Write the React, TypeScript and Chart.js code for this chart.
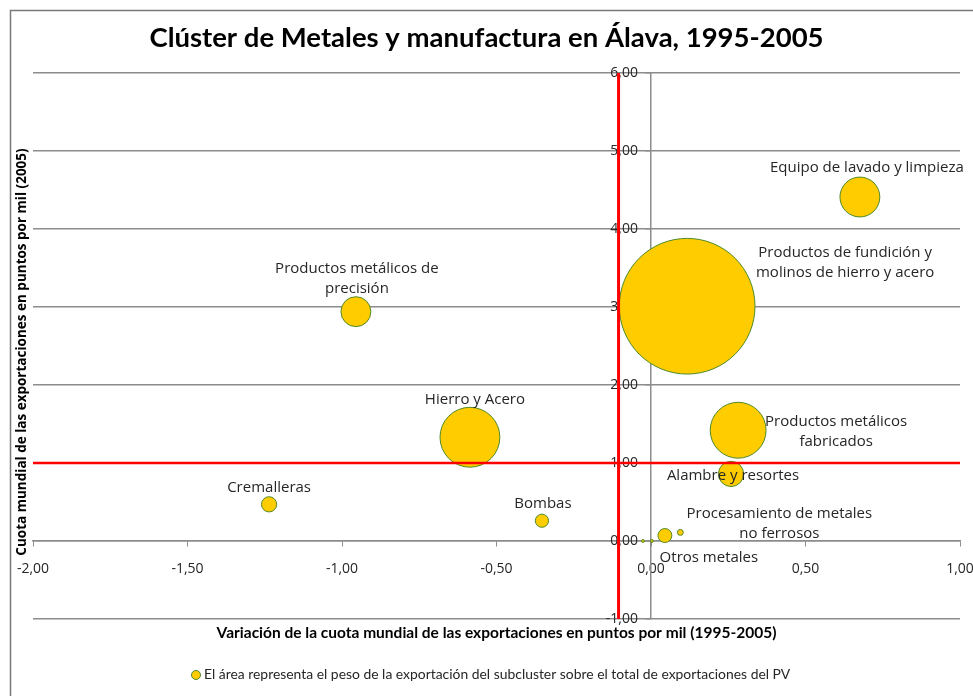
import React, { useEffect, useRef } from 'react';
import { Chart, registerables } from 'chart.js';

Chart.register(...registerables);

// ---- data ----
const subclusters = [
  'Equipo de lavado y limpieza',
  'Productos de fundición y\nmolinos de hierro y acero',
  'Productos metálicos de\nprecisión',
  'Hierro y Acero',
  'Productos metálicos\nfabricados',
  'Alambre y resortes',
  'Cremalleras',
  'Bombas',
  'Procesamiento de metales\nno ferrosos',
  'Otros metales',
  '',
  '',
];
// Variación de la cuota mundial (1995-2005), puntos por mil
const variacion = [0.676, 0.117, -0.955, -0.586, 0.282, 0.259, -1.236, -0.353, 0.095, 0.045, -0.026, 0.003];
// Cuota mundial 2005, puntos por mil
const cuota = [4.41, 3.01, 2.94, 1.33, 1.42, 0.86, 0.47, 0.26, 0.11, 0.07, 0.0, 0.0];
// Peso de la exportación del subcluster (% del total PV)
const peso = [5.5, 63.7, 3.1, 12.4, 10.8, 2.2, 0.8, 0.6, 0.12, 0.67, 0.03, 0.03];

const xMin = -2;
const xMax = 1;
const xStep = 0.5;
const yMin = -1;
const yMax = 6;
const yStep = 1;

// reference (red) lines
const refLineX = -0.105;
const refLineY = 1;

const titleText = 'Clúster de Metales y manufactura en Álava, 1995-2005';
const xTitle = 'Variación de la cuota mundial de las exportaciones en puntos por mil (1995-2005)';
const yTitle = 'Cuota mundial de las exportaciones en puntos por mil (2005)';
const legendText = 'El área representa el peso de la exportación del subcluster sobre el total de exportaciones del PV';

// ---- style ----
const BUBBLE_SCALE = 8.5;
const GOLD = '#FFCC00';
const GREEN = '#4F8A2A';
const GRID = '#8C8C8C';
const TEXT = '#262626';
const LABEL_FONT = '15px "Open Sans", Lato, sans-serif';
const TICK_FAMILY = '"Open Sans", Lato, sans-serif';
// label block centre offsets (px) from the bubble centre
const labelOffsets: [number, number][] = [
  [7, -29],
  [158, -43],
  [1, -33],
  [5, -38],
  [98, 1],
  [2, 2],
  [0, -17],
  [1, -17],
  [99, -9],
  [44, 22],
  [0, 0],
  [0, 0],
];

const fmt = (v: number) => v.toFixed(2).replace('.', ',');

const zeroPad = (scale: any) => {
  scale.paddingLeft = 0;
  scale.paddingRight = 0;
  scale.paddingTop = 0;
  scale.paddingBottom = 0;
};

const decorPlugin = {
  id: 'decor',
  beforeDraw(chart: any) {
    const ctx = chart.ctx;
    ctx.save();
    ctx.fillStyle = '#ffffff';
    ctx.fillRect(0, 0, chart.width, chart.height);
    ctx.strokeStyle = '#7a7a7a';
    ctx.lineWidth = 1.5;
    ctx.beginPath();
    ctx.moveTo(10.5, chart.height);
    ctx.lineTo(10.5, 10.5);
    ctx.lineTo(chart.width, 10.5);
    ctx.stroke();
    ctx.restore();
  },
  beforeDatasetsDraw(chart: any) {
    // y tick labels (left of the y axis that crosses at x = 0), under the red line
    const ctx = chart.ctx;
    const xs = chart.scales.x;
    const ys = chart.scales.y;
    ctx.save();
    ctx.font = `14px ${TICK_FAMILY}`;
    ctx.fillStyle = TEXT;
    ctx.textAlign = 'right';
    ctx.textBaseline = 'middle';
    const axisX = xs.getPixelForValue(0);
    ys.ticks.forEach((t: any) => {
      ctx.fillText(fmt(t.value), axisX - 13, ys.getPixelForValue(t.value));
    });
    ctx.restore();
  },
  afterDatasetsDraw(chart: any) {
    const ctx = chart.ctx;
    const meta = chart.getDatasetMeta(2);
    ctx.save();
    ctx.font = LABEL_FONT;
    ctx.fillStyle = TEXT;
    ctx.textAlign = 'center';
    ctx.textBaseline = 'middle';
    meta.data.forEach((el: any, i: number) => {
      const txt = subclusters[i];
      if (!txt) return;
      const lines = txt.split('\n');
      const [dx, dy] = labelOffsets[i];
      const lh = 20;
      const startY = el.y + dy - ((lines.length - 1) * lh) / 2;
      lines.forEach((ln, j) => ctx.fillText(ln, el.x + dx, startY + j * lh));
    });
    ctx.restore();
  },
  afterDraw(chart: any) {
    const ctx = chart.ctx;
    const ca = chart.chartArea;
    ctx.save();
    ctx.textBaseline = 'middle';
    // title
    ctx.fillStyle = '#000';
    ctx.textAlign = 'center';
    ctx.font = 'bold 27.5px Lato, "Open Sans", sans-serif';
    ctx.fillText(titleText, chart.width / 2, 38);
    // x title
    ctx.font = 'bold 15.5px Lato, "Open Sans", sans-serif';
    ctx.fillText(xTitle, (ca.left + ca.right) / 2, 633);
    // y title
    ctx.save();
    ctx.translate(22, (ca.top + ca.bottom) / 2 + 6);
    ctx.rotate(-Math.PI / 2);
    ctx.font = 'bold 13.5px "Open Sans", sans-serif';
    ctx.fillText(yTitle, 0, 0);
    ctx.restore();
    // legend
    ctx.font = '13.9px Lato, "Open Sans", sans-serif';
    ctx.textAlign = 'left';
    ctx.fillStyle = TEXT;
    ctx.fillText(legendText, 204, 675);
    ctx.beginPath();
    ctx.arc(196, 675, 4.5, 0, Math.PI * 2);
    ctx.fillStyle = GOLD;
    ctx.fill();
    ctx.strokeStyle = GREEN;
    ctx.lineWidth = 1;
    ctx.stroke();
    ctx.restore();
  },
};

export default function App() {
  const ref = useRef<HTMLCanvasElement | null>(null);
  useEffect(() => {
    document.body.style.margin = '0';
    if (!ref.current) return;
    const bubbles = variacion.map((x, i) => ({ x, y: cuota[i], r: BUBBLE_SCALE * Math.sqrt(peso[i]) }));
    const chart = new Chart(ref.current, {
      type: 'bubble',
      data: {
        datasets: [
          {
            type: 'scatter',
            data: [
              { x: refLineX, y: yMin },
              { x: refLineX, y: yMax },
            ],
            showLine: true,
            borderColor: '#FF0000',
            borderWidth: 3,
            pointRadius: 0,
            order: 0,
          } as any,
          {
            type: 'scatter',
            data: [
              { x: xMin, y: refLineY },
              { x: xMax, y: refLineY },
            ],
            showLine: true,
            borderColor: '#FF0000',
            borderWidth: 2.5,
            pointRadius: 0,
            order: 1,
          } as any,
          {
            label: legendText,
            data: bubbles,
            backgroundColor: GOLD,
            borderColor: GREEN,
            borderWidth: 1,
            order: 2,
          },
        ],
      },
      options: {
        responsive: false,
        animation: false,
        layout: { autoPadding: false, padding: { left: 33, right: 13, top: 73, bottom: 77 } },
        plugins: { legend: { display: false }, tooltip: { enabled: false }, title: { display: false } },
        scales: {
          x: {
            type: 'linear',
            min: xMin,
            max: xMax,
            position: { y: 0 } as any,
            afterFit: zeroPad,
            ticks: {
              stepSize: xStep,
              callback: (v: any) => fmt(Number(v)),
              color: TEXT,
              font: { size: 14, family: TICK_FAMILY },
              padding: 15,
              maxRotation: 0,
            },
            grid: { drawOnChartArea: false, drawTicks: true, tickLength: 5, color: GRID },
            border: { display: true, color: GRID, width: 1.5 },
          },
          y: {
            type: 'linear',
            min: yMin,
            max: yMax,
            position: { x: 0 } as any,
            afterFit: zeroPad,
            ticks: {
              stepSize: yStep,
              callback: (v: any) => fmt(Number(v)),
              color: 'rgba(0,0,0,0)',
              font: { size: 14, family: TICK_FAMILY },
              padding: 8,
            },
            grid: { drawOnChartArea: true, drawTicks: true, tickLength: 5, color: GRID, lineWidth: 1.5 },
            border: { display: true, color: GRID, width: 1.5 },
          },
        },
      },
      plugins: [decorPlugin],
    });
    return () => chart.destroy();
  }, []);
  return (
    <div style={{ width: 973, height: 696 }}>
      <canvas ref={ref} width={973} height={696} />
    </div>
  );
}
